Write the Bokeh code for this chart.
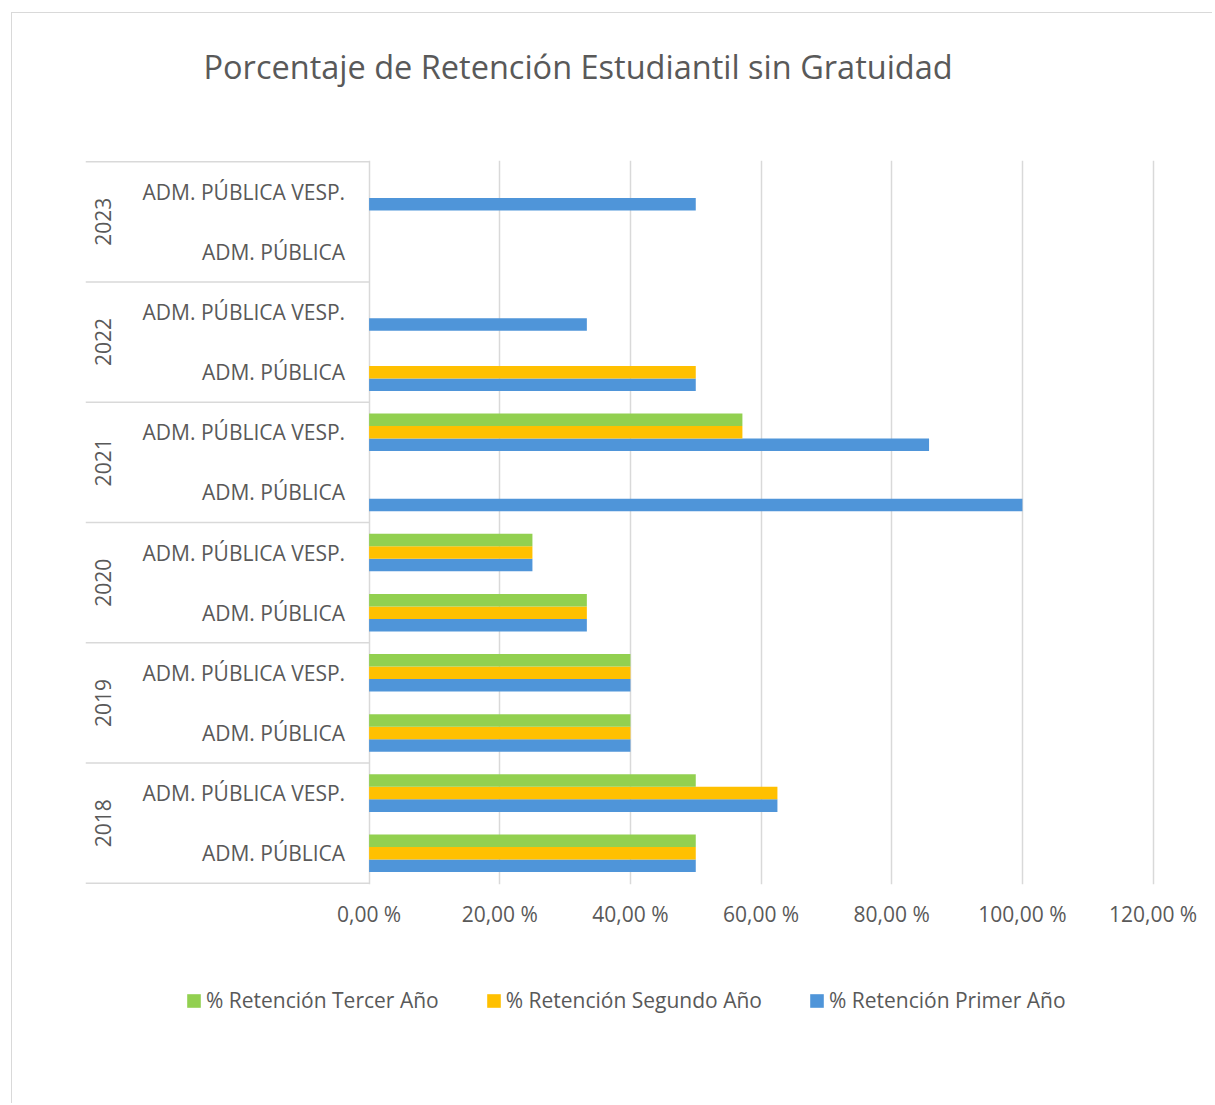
import math
from bokeh.plotting import figure
from bokeh.layouts import column
from bokeh.models import Range1d, FixedTicker, ColumnDataSource, Legend, LegendItem, Title
from bokeh.core.properties import value
from bokeh.transform import dodge
from bokeh.embed import file_html
from bokeh.resources import INLINE

# ---------------- data ----------------
TITLE = "Porcentaje de Retención Estudiantil sin Gratuidad"
years = ["2018", "2019", "2020", "2021", "2022", "2023"]
programs = ["ADM. PÚBLICA", "ADM. PÚBLICA VESP."]
# one value per (year, program), in the order 2018 ADM. PÚBLICA, 2018 VESP., 2019 ...
primer_anio = [50.0, 62.5, 40.0, 40.0, 33.33, 25.0, 100.0, 85.71, 50.0, 33.33, None, 50.0]
segundo_anio = [50.0, 62.5, 40.0, 40.0, 33.33, 25.0, None, 57.14, 50.0, None, None, None]
tercer_anio = [50.0, 50.0, 40.0, 40.0, 33.33, 25.0, None, 57.14, None, None, None, None]
series_names = ["% Retención Tercer Año", "% Retención Segundo Año", "% Retención Primer Año"]
tick_values = [0, 20, 40, 60, 80, 100, 120]
tick_labels = ["0,00 %", "20,00 %", "40,00 %", "60,00 %", "80,00 %", "100,00 %", "120,00 %"]

# ---------------- style ----------------
GREEN, YELLOW, BLUE = "#92D050", "#FFC000", "#4F95D9"
TEXT = "#595959"
LINE = "#D9D9D9"
FONT = "Open Sans"
BAR_H = 0.625 / 3

def clean(v):
    return float("nan") if v is None else v

rows = [(yr, pg) for yr in years for pg in programs]
ys = list(range(len(rows)))

W = 1200
H_MAIN, H_LEG = 940, 150
X_START, X_END = -43.41, 120.37

src = ColumnDataSource(dict(
    y=ys,
    primer=[clean(v) for v in primer_anio],
    segundo=[clean(v) for v in segundo_anio],
    tercer=[clean(v) for v in tercer_anio],
))

# ---------------- main chart ----------------
p = figure(width=W, height=H_MAIN, output_backend="svg", toolbar_location=None, tools="",
           x_range=Range1d(X_START, X_END), y_range=Range1d(-0.52, len(rows) - 0.48),
           min_border_left=73, min_border_right=57, min_border_top=147, min_border_bottom=69)
p.outline_line_color = None
p.background_fill_color = "white"
p.border_fill_color = "white"

# spacer between frame and title (keeps the title high above the plot)
p.add_layout(Title(text=" ", text_font_size="1px", standoff=69), "above")
p.title.text = TITLE
p.title.text_font = FONT
p.title.text_font_size = "32.5px"
p.title.text_font_style = "normal"
p.title.text_color = TEXT
p.title.align = "left"
p.title.offset = 118
p.title.standoff = 0

p.yaxis.visible = False
p.ygrid.visible = False
p.xaxis.ticker = FixedTicker(ticks=tick_values)
p.xaxis.major_label_overrides = {v: l for v, l in zip(tick_values, tick_labels)}
p.xaxis.axis_line_color = None
p.xaxis.major_tick_line_color = None
p.xaxis.minor_tick_line_color = None
p.xaxis.major_label_standoff = 9
p.xaxis.major_label_text_font = FONT
p.xaxis.major_label_text_font_size = "21px"
p.xaxis.major_label_text_color = TEXT
p.xgrid.ticker = FixedTicker(ticks=tick_values)
p.xgrid.grid_line_color = LINE
p.xgrid.grid_line_width = 1.5

p.hbar(y=dodge("y", -BAR_H, range=p.y_range), left=0, right="primer", height=BAR_H,
       source=src, fill_color=BLUE, line_color=None)
p.hbar(y=dodge("y", 0, range=p.y_range), left=0, right="segundo", height=BAR_H,
       source=src, fill_color=YELLOW, line_color=None)
p.hbar(y=dodge("y", BAR_H, range=p.y_range), left=0, right="tercer", height=BAR_H,
       source=src, fill_color=GREEN, line_color=None)

lab_src = ColumnDataSource(dict(y=ys, x=[0] * len(ys), text=[pg for _, pg in rows]))
p.text(x="x", y="y", text="text", source=lab_src, x_offset=-24, text_align="right",
       text_baseline="middle", text_font=value(FONT), text_font_size=value("21px"),
       text_color=TEXT)

year_src = ColumnDataSource(dict(
    y=[len(programs) * j + (len(programs) - 1) / 2 for j in range(len(years))],
    x=[0] * len(years), text=years))
p.text(x="x", y="y", text="text", source=year_src, x_offset=-266, angle=math.pi / 2,
       text_align="center", text_baseline="middle", text_font=value(FONT),
       text_font_size=value("21px"), text_color=TEXT)

bounds = [len(programs) * j - 0.5 for j in range(len(years) + 1)]
p.segment(x0=[X_START] * len(bounds), x1=[0] * len(bounds), y0=bounds, y1=bounds,
          line_color=LINE, line_width=1.5)

# ---------------- legend strip ----------------
# the strip's ranges show none of the data, so only the legend is visible
leg = figure(width=W, height=H_LEG, output_backend="svg", toolbar_location=None, tools="",
             x_range=Range1d(150, 250), y_range=Range1d(15, 25), min_border=0)
leg.axis.visible = False
leg.grid.visible = False
leg.outline_line_color = None
leg.border_fill_color = "white"
lg_green = leg.hbar(y="y", left=0, right="tercer", height=BAR_H, source=src,
                    fill_color=GREEN, line_color=None)
lg_yellow = leg.hbar(y="y", left=0, right="segundo", height=BAR_H, source=src,
                     fill_color=YELLOW, line_color=None)
lg_blue = leg.hbar(y="y", left=0, right="primer", height=BAR_H, source=src,
                   fill_color=BLUE, line_color=None)
legend = Legend(items=[
    LegendItem(label=value(series_names[0]), renderers=[lg_green]),
    LegendItem(label=value(series_names[1]), renderers=[lg_yellow]),
    LegendItem(label=value(series_names[2]), renderers=[lg_blue]),
], orientation="horizontal", location=(100, 89), glyph_width=17, glyph_height=17,
    label_standoff=4, spacing=46, label_text_font=FONT, label_text_font_size="21px",
    label_text_color=TEXT, border_line_color=None, background_fill_alpha=0,
    padding=0, margin=0)
leg.add_layout(legend)

layout = column(p, leg, margin=(12, 0, 0, 11),
                styles={"border-left": "1px solid #D9D9D9", "border-top": "1px solid #D9D9D9"})

open("out.html", "w").write(file_html(layout, INLINE))
